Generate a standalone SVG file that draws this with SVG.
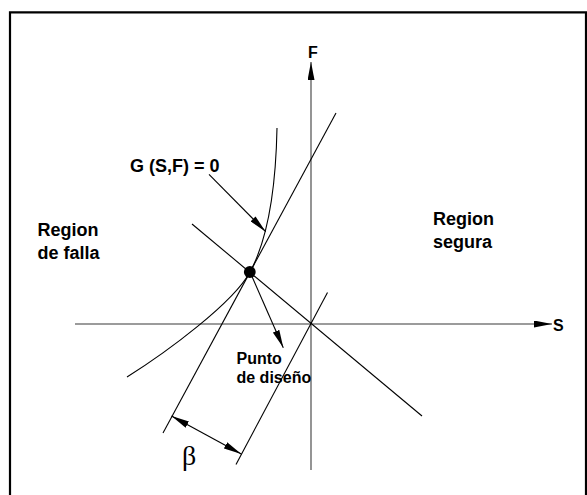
<svg xmlns="http://www.w3.org/2000/svg" width="587" height="495" viewBox="0 0 587 495">
<style>
.ln{stroke:#000;stroke-width:1.1;fill:none}
.ax{stroke:#7a7a7a;stroke-width:1.6;fill:none}
.lbl{font-family:"Liberation Sans",Arial,sans-serif;font-weight:bold;fill:#000}
.greek{font-family:"Liberation Serif","Times New Roman",serif;fill:#000}
</style>
<defs>
<marker id="arr" viewBox="0 0 18 7" refX="18" refY="3.5" markerWidth="18" markerHeight="7" markerUnits="userSpaceOnUse" orient="auto-start-reverse">
<path d="M0,0 L18,3.5 L0,7 Z" fill="#000"/>
</marker>
</defs>
<rect width="587" height="495" fill="#fff"/>
<path d="M10,495 V12.3 H586 V495" stroke="#000" stroke-width="2.2" fill="none"/>
<g id="connectors">
<line class="ax" x1="311" y1="470" x2="311" y2="62" marker-end="url(#arr)"/>
<line class="ax" x1="75" y1="324" x2="552" y2="324" marker-end="url(#arr)"/>
<line class="ln" x1="336" y1="113" x2="163" y2="433"/>
<line class="ln" x1="327.5" y1="292.5" x2="236" y2="464.5"/>
<line class="ln" x1="192" y1="224" x2="422" y2="416"/>
<path class="ln" d="M277,128 C276,180 269,237 250,272 C233.4,302.8 167,352 127,377"/>
<line class="ln" x1="209" y1="174.3" x2="265.7" y2="231.7" marker-end="url(#arr)"/>
<line class="ln" x1="250" y1="272" x2="283.3" y2="347.7" marker-end="url(#arr)"/>
<line class="ln" x1="171.5" y1="416" x2="241.3" y2="454" marker-start="url(#arr)" marker-end="url(#arr)"/>
</g>
<g id="design-point"><circle cx="249.8" cy="272" r="5.9" fill="#000"/></g>
<g id="axis-F"><text class="lbl" x="308" y="58" font-size="16">F</text></g>
<g id="axis-S"><text class="lbl" x="553" y="331" font-size="16">S</text></g>
<g id="limit-state"><text class="lbl" x="130" y="171.5" font-size="18">G (S,F) = 0</text></g>
<g id="region-falla"><text class="lbl" font-size="18"><tspan x="37.5" y="235.5">Region</tspan><tspan x="37.5" y="259">de falla</tspan></text></g>
<g id="region-segura"><text class="lbl" font-size="18"><tspan x="433" y="225">Region</tspan><tspan x="433" y="248">segura</tspan></text></g>
<g id="punto-diseno"><text class="lbl" font-size="16"><tspan x="236.5" y="364">Punto</tspan><tspan x="236.5" y="383">de diseño</tspan></text></g>
<g id="beta"><text class="greek" x="182" y="465" font-size="28">β</text></g>
</svg>
